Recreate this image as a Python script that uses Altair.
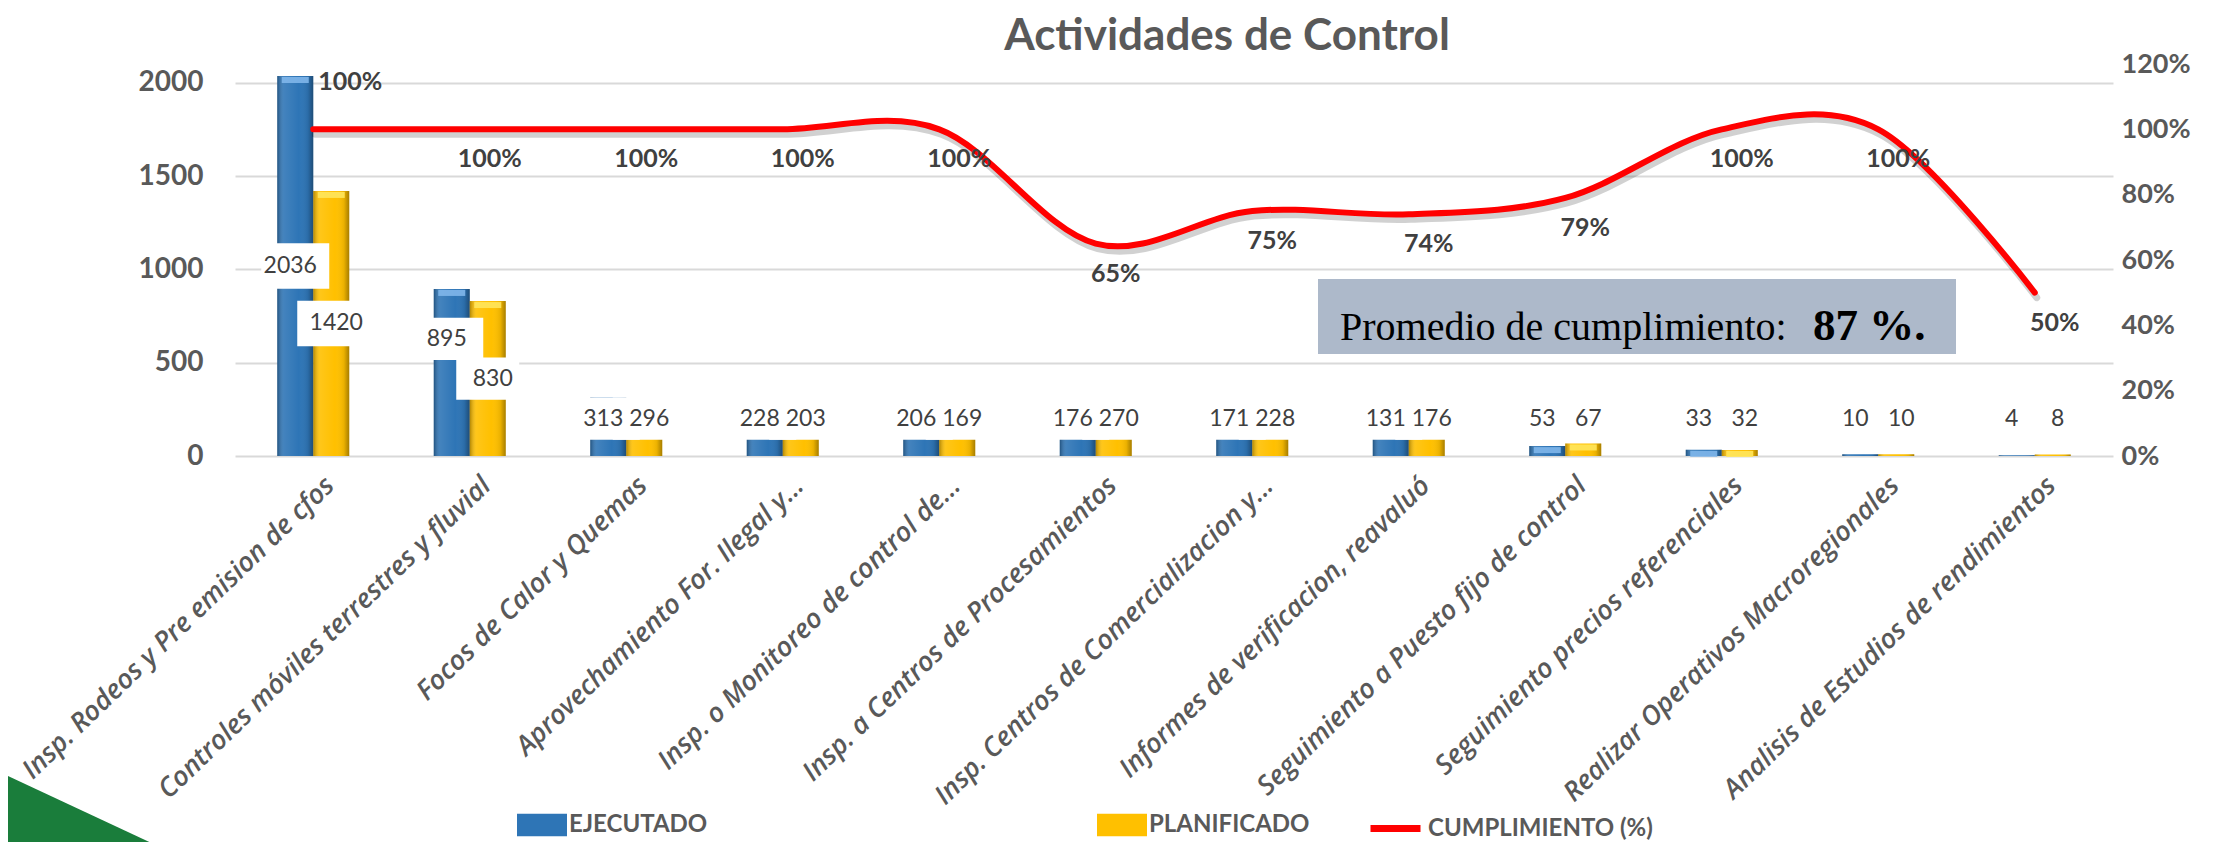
import altair as alt
import pandas as pd

# ---------------- data ----------------
categorias = [
    "Insp. Rodeos y Pre emision de cfos",
    "Controles móviles terrestres y fluvial",
    "Focos de Calor y Quemas",
    "Aprovechamiento For. Ilegal y...",
    "Insp. o Monitoreo de control de...",
    "Insp. a Centros de Procesamientos",
    "Insp. Centros de Comercializacion y...",
    "Informes de verificacion, reavaluó",
    "Seguimiento a Puesto fijo de control",
    "Seguimiento precios referenciales",
    "Realizar Operativos Macroregionales",
    "Analisis de Estudios de rendimientos",
]
ejecutado = [2036, 895, 313, 228, 206, 176, 171, 131, 53, 33, 10, 4]
planificado = [1420, 830, 296, 203, 169, 270, 228, 176, 67, 32, 10, 8]
cumplimiento = [1.00, 1.00, 1.00, 1.00, 1.00, 0.65, 0.75, 0.74, 0.79, 1.00, 1.00, 0.50]
series = ["EJECUTADO", "PLANIFICADO"]
colores = ["#2E75B6", "#FFC000"]
colores_bisel = ["#7FB6EA", "#FFE55C"]
serie_linea = "CUMPLIMIENTO (%)"
titulo = "Actividades de Control"
promedio_texto = "Promedio de cumplimiento:"
promedio_valor = "87 %."
ticks_izq = [0, 500, 1000, 1500, 2000]
ticks_der = [0, 0.2, 0.4, 0.6, 0.8, 1.0, 1.2]

df = pd.DataFrame({
    "cat": categorias,
    "EJECUTADO": ejecutado,
    "PLANIFICADO": planificado,
    "pct": cumplimiento,
    "idx": list(range(len(categorias))),
})

GRAY = "#595959"
DARK = "#404040"

x_axis = alt.Axis(labelAngle=-44, labelAlign="right", labelBaseline="top",
                  labelPadding=16, labelOffset=8, labelFont="Open Sans",
                  labelFontStyle="italic", labelFontWeight=600, labelFontSize=27,
                  labelColor=GRAY, labelLimit=1000, domain=False, ticks=False,
                  grid=False, title=None, labelOverlap=False)


def xenc(with_axis=False):
    if with_axis:
        return alt.X("cat:N", sort=categorias,
                     scale=alt.Scale(paddingInner=0.54, paddingOuter=0.27),
                     axis=x_axis, title=None)
    return alt.X("cat:N", sort=categorias,
                 scale=alt.Scale(paddingInner=0.54, paddingOuter=0.27), title=None)


xoff = alt.XOffset("serie:N", sort=series, scale=alt.Scale(domain=series))

yl_scale = alt.Scale(domain=[0, 2100], nice=False)
yl_axis = alt.Axis(values=ticks_izq, format="d", grid=True, gridColor="#D9D9D9",
                   gridWidth=2, domain=False, ticks=False, labelPadding=32,
                   labelFont="Lato", labelFontWeight="bold", labelFontSize=28,
                   labelColor=GRAY, title=None)

yr_scale = alt.Scale(domain=[0, 1.2], nice=False)
yr_axis = alt.Axis(orient="right", values=ticks_der, format=".0%", grid=False,
                   domain=False, ticks=False, labelPadding=8, labelFont="Lato",
                   labelFontWeight="bold", labelFontSize=27, labelColor=GRAY, title=None)

base_b = (
    alt.Chart(df)
    .transform_fold(series, as_=["serie", "valor"])
    .transform_calculate(
        ly="datum.serie == 'EJECUTADO' ? max(datum.EJECUTADO / 2, 200) + "
           "((abs(datum.EJECUTADO - datum.PLANIFICADO) < 200 && datum.EJECUTADO > 500) ? 180 : 0)"
           " : max(datum.PLANIFICADO / 2, 200)",
        bw="5 * length(toString(datum.valor)) + 48",
    )
    .transform_calculate(bsize="datum.bw * datum.bw")
)

bars = base_b.mark_bar(strokeWidth=0).encode(
    x=xenc(True),
    xOffset=xoff,
    y=alt.Y("valor:Q", scale=yl_scale, axis=yl_axis, title=None),
    color=alt.Color(
        "serie:N", sort=series,
        scale=alt.Scale(domain=series, range=colores),
        legend=alt.Legend(
            title=None, orient="none", legendX=282, legendY=736,
            direction="horizontal",
            symbolType="M-1,-0.45L1,-0.45L1,0.45L-1,0.45Z", symbolSize=2500,
            symbolStrokeWidth=0, labelFont="Lato", labelFontWeight="bold",
            labelFontSize=24, labelColor=GRAY, columnPadding=389, labelOffset=2,
            labelLimit=400,
        ),
    ),
)

shade = base_b.mark_bar(
    strokeWidth=0,
    fill=alt.Gradient(
        gradient="linear", x1=0, x2=1, y1=0, y2=0,
        stops=[
            alt.GradientStop(offset=0, color="rgba(0,0,0,0.30)"),
            alt.GradientStop(offset=0.18, color="rgba(255,255,255,0.10)"),
            alt.GradientStop(offset=0.6, color="rgba(255,255,255,0.0)"),
            alt.GradientStop(offset=0.85, color="rgba(0,0,0,0.08)"),
            alt.GradientStop(offset=1, color="rgba(0,0,0,0.35)"),
        ],
    ),
).encode(x=xenc(), xOffset=xoff, y=alt.Y("valor:Q", scale=yl_scale, title=None))


def bevel(i):
    return (
        base_b.transform_filter(f"datum.serie == '{series[i]}' && datum.valor >= 25")
        .mark_tick(orient="horizontal", size=27, thickness=6, color=colores_bisel[i],
                   opacity=0.9, yOffset=4)
        .encode(x=xenc(), xOffset=xoff, y=alt.Y("valor:Q", scale=yl_scale, title=None))
    )


def box_layer(i, dx):
    return base_b.transform_filter(f"datum.serie == '{series[i]}'").mark_point(
        shape="M-1,-0.67L1,-0.67L1,0.67L-1,0.67Z", filled=True, fill="white",
        opacity=1, strokeWidth=0, xOffset=dx,
    ).encode(
        x=xenc(), xOffset=xoff,
        y=alt.Y("ly:Q", scale=yl_scale, title=None),
        size=alt.Size("bsize:Q", scale=None, legend=None),
    )


def text_layer(i, dx):
    return base_b.transform_filter(f"datum.serie == '{series[i]}'").mark_text(
        font="Lato", fontSize=23, color=DARK, baseline="middle", dx=dx,
    ).encode(
        x=xenc(), xOffset=xoff,
        y=alt.Y("ly:Q", scale=yl_scale, title=None),
        text=alt.Text("valor:Q", format="d"),
    )


bars_layer = alt.layer(
    bars, shade, bevel(0), bevel(1),
    box_layer(0, -5), box_layer(1, 5),
    text_layer(0, -5), text_layer(1, 5),
)

base_l = alt.Chart(df).transform_calculate(serie_l=f"'{serie_linea}'")

shadow = base_l.mark_line(interpolate="cardinal", tension=0, strokeWidth=7,
                          color="black", opacity=0.18, xOffset=2, yOffset=5,
                          strokeCap="round").encode(
    x=xenc(), y=alt.Y("pct:Q", scale=yr_scale, title=None))

line = base_l.mark_line(interpolate="cardinal", tension=0, strokeWidth=6,
                        strokeCap="round").encode(
    x=xenc(),
    y=alt.Y("pct:Q", scale=yr_scale, axis=yr_axis, title=None),
    stroke=alt.Stroke(
        "serie_l:N",
        scale=alt.Scale(domain=[serie_linea], range=["#FF0000"]),
        legend=alt.Legend(
            title=None, orient="none", legendX=1132, legendY=736,
            symbolType="stroke", symbolSize=2500, symbolStrokeWidth=7,
            labelFont="Lato", labelFontWeight="bold", labelFontSize=24,
            labelColor=GRAY, labelOffset=4, labelLimit=400,
        ),
    ),
)

pct_first = base_l.transform_filter("datum.idx == 0").mark_text(
    font="Lato", fontWeight="bold", fontSize=25, color=DARK, align="left",
    baseline="middle", dx=5, dy=-47,
).encode(x=xenc(), y=alt.Y("pct:Q", scale=yr_scale, title=None),
         text=alt.Text("pct:Q", format=".0%"))

pct_rest = base_l.transform_filter("datum.idx > 0").mark_text(
    font="Lato", fontWeight="bold", fontSize=25, color=DARK, align="center",
    baseline="middle", dx=20, dy=30,
).encode(x=xenc(), y=alt.Y("pct:Q", scale=yr_scale, title=None),
         text=alt.Text("pct:Q", format=".0%"))

line_layer = alt.layer(shadow, line, pct_first, pct_rest)

# ---------------- annotations ----------------
ann = alt.Chart(pd.DataFrame({"t": [promedio_texto], "v": [promedio_valor], "h": [titulo]}))

title_mark = ann.mark_text(font="Lato", fontSize=44, fontWeight="bold", color=GRAY,
                           align="center", baseline="alphabetic").encode(
    x=alt.value(992), y=alt.value(-14), text="h:N")

box = ann.mark_rect(color="#ADB9CA").encode(
    x=alt.value(1083), x2=alt.value(1721), y=alt.value(215), y2=alt.value(290))
txt1 = ann.mark_text(font="Liberation Serif", fontSize=40, color="black",
                     align="left", baseline="alphabetic").encode(
    x=alt.value(1105), y=alt.value(276), text="t:N")
txt2 = ann.mark_text(font="Liberation Serif", fontSize=45, fontWeight="bold",
                     color="black", align="left", baseline="alphabetic").encode(
    x=alt.value(1578), y=alt.value(276), text="v:N")

tri = ann.mark_point(shape="M0,0L2.84,1.326L0,1.326Z", size=10000, filled=True,
                     fill="#1A7D3B", opacity=1, strokeWidth=0).encode(
    x=alt.value(-227), y=alt.value(712))

chart = (
    alt.layer(bars_layer, line_layer, box, txt1, txt2, tri, title_mark)
    .resolve_scale(y="independent")
    .properties(
        width=1878, height=392,
        autosize=alt.AutoSizeParams(type="none"),
        padding={"left": 227, "top": 56, "right": 101, "bottom": 386},
    )
    .configure_view(strokeWidth=0, stroke="transparent")
)

chart.save("out.html", embed_options={"renderer": "svg", "actions": False})
